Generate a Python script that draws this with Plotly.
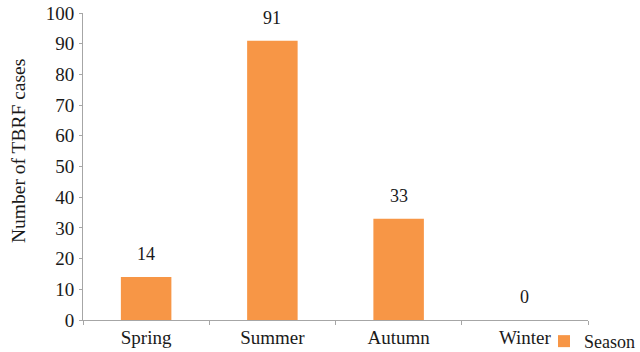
import plotly.graph_objects as go

seasons = ["Spring", "Summer", "Autumn", "Winter"]
cases = [14, 91, 33, 0]
y_ticks = [0, 10, 20, 30, 40, 50, 60, 70, 80, 90, 100]

font_family = "'Liberation Serif', 'Times New Roman', Times, serif"
bar_color = "#F79646"
axis_color = "#A6A6A6"
text_color = "#1a1a1a"

fig = go.Figure(
    go.Bar(
        x=seasons,
        y=cases,
        name="Season",
        marker=dict(color=bar_color, line=dict(width=0)),
    )
)

# value labels sit a little higher above each bar
for s, v in zip(seasons, cases):
    fig.add_annotation(
        x=s, y=v, text=str(v), showarrow=False,
        yanchor="bottom", yshift=11,
        font=dict(family=font_family, size=18, color=text_color),
    )

# vertical axis title, placed slightly above the middle of the axis
fig.add_annotation(
    xref="paper", yref="paper", x=-0.129, y=0.55,
    xanchor="center", yanchor="middle", textangle=-90,
    text="Number of TBRF cases", showarrow=False,
    font=dict(family=font_family, size=19.5, color=text_color),
)

fig.update_layout(
    width=640,
    height=352,
    margin=dict(l=83, r=52, t=13, b=32, autoexpand=False),
    paper_bgcolor="white",
    plot_bgcolor="white",
    bargap=0.6,
    font=dict(family=font_family, size=18, color=text_color),
    showlegend=True,
    legend=dict(
        xref="container", yref="container",
        x=0.85, y=0.03, xanchor="left", yanchor="middle",
        font=dict(family=font_family, size=18, color=text_color),
        bgcolor="rgba(0,0,0,0)", borderwidth=0,
    ),
)

fig.update_xaxes(
    automargin=False,
    showline=True, linecolor=axis_color, linewidth=1,
    ticks="outside", tickson="boundaries", ticklen=4, tickcolor=axis_color,
    showgrid=False, tickfont=dict(family=font_family, size=19),
)
fig.update_yaxes(
    automargin=False,
    range=[0, 100], tickvals=y_ticks,
    showline=True, linecolor=axis_color, linewidth=1,
    ticks="outside", ticklen=3, tickcolor=axis_color, ticklabelstandoff=1,
    showgrid=False, zeroline=False, tickfont=dict(family=font_family, size=19),
)

fig.write_html("out.html")
